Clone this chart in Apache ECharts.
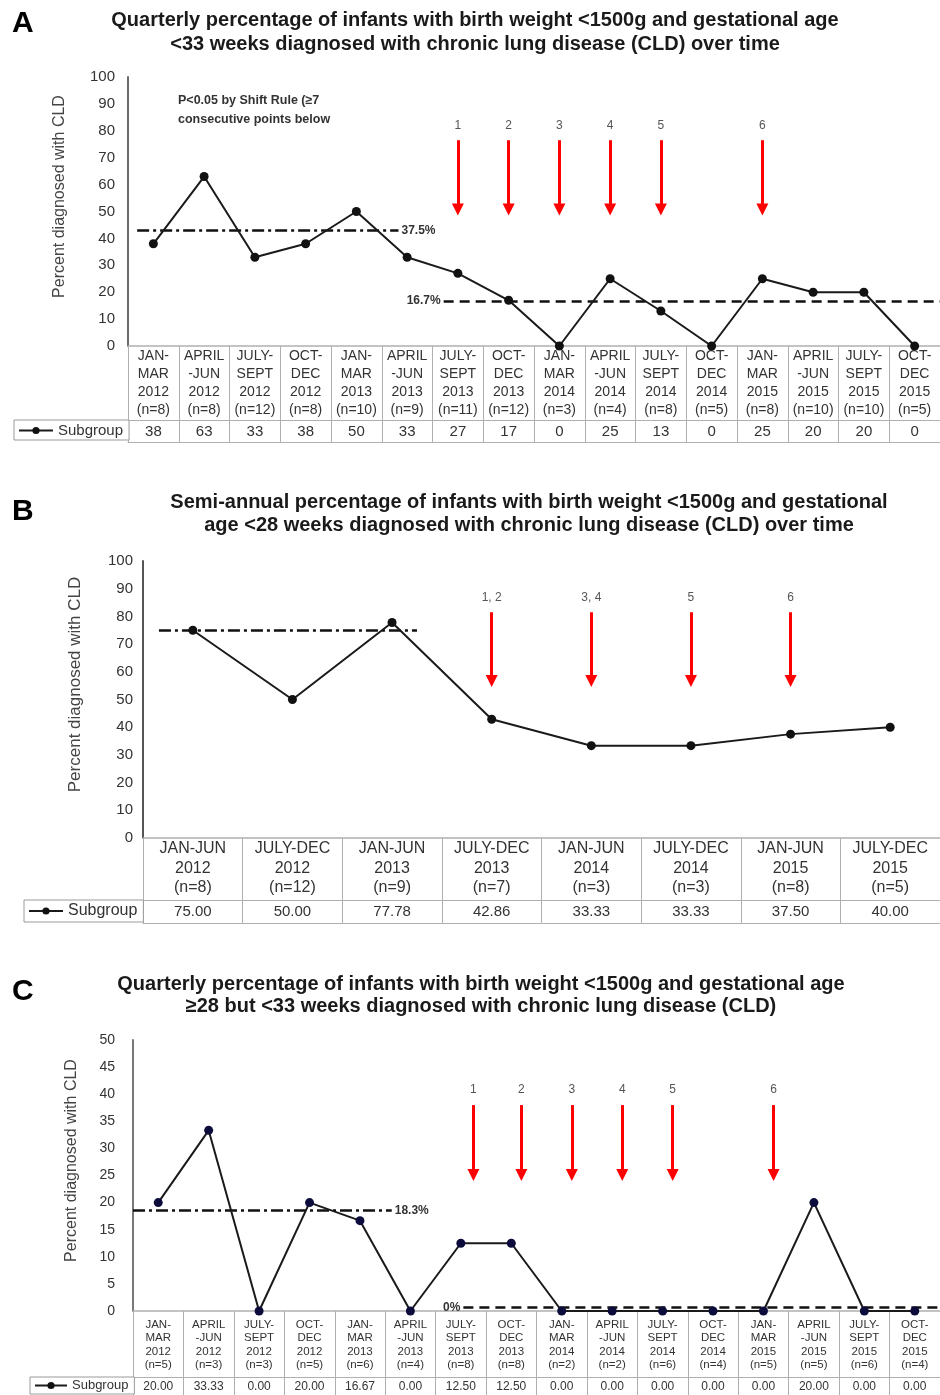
<!DOCTYPE html>
<html><head><meta charset="utf-8">
<script src="https://cdn.jsdelivr.net/npm/echarts@6/dist/echarts.min.js"></script>
<style>html,body{margin:0;padding:0;background:#fff}#c{width:940px;height:1395px}</style>
</head><body><div id="c"></div>
<script>
// ---------- DATA ----------
const quarterPeriods = ['JAN-\nMAR\n2012','APRIL\n-JUN\n2012','JULY-\nSEPT\n2012','OCT-\nDEC\n2012','JAN-\nMAR\n2013','APRIL\n-JUN\n2013','JULY-\nSEPT\n2013','OCT-\nDEC\n2013','JAN-\nMAR\n2014','APRIL\n-JUN\n2014','JULY-\nSEPT\n2014','OCT-\nDEC\n2014','JAN-\nMAR\n2015','APRIL\n-JUN\n2015','JULY-\nSEPT\n2015','OCT-\nDEC\n2015'];
const halfYearPeriods = ['JAN-JUN\n2012','JULY-DEC\n2012','JAN-JUN\n2013','JULY-DEC\n2013','JAN-JUN\n2014','JULY-DEC\n2014','JAN-JUN\n2015','JULY-DEC\n2015'];

const nA = [8,8,12,8,10,9,11,12,3,4,8,5,8,10,10,5];
const pctA = [38,63,33,38,50,33,27,17,0,25,13,0,25,20,20,0];

const nB = [8,12,9,7,3,3,8,5];
const pctB = [75.00,50.00,77.78,42.86,33.33,33.33,37.50,40.00];

const nC = [5,3,3,5,6,4,8,8,2,2,6,4,5,5,6,4];
const pctC = [20.00,33.33,0.00,20.00,16.67,0.00,12.50,12.50,0.00,0.00,0.00,0.00,0.00,20.00,0.00,0.00];

// reference lines (value, category-position start/end, label)
const centerLineA = {value:43, from:-0.32, to:4.83, label:'37.5%'};
const shiftLineA  = {value:16.7, from:5.72, to:15.5, label:'16.7%'};
const centerLineB = {value:75, from:-0.34, to:2.25, label:''};
const centerLineC = {value:18.5, from:-0.5, to:4.63, label:'18.3%'};
const shiftLineC  = {value:0.6, from:6.05, to:15.5, label:'0%'};

// intervention arrows (category position, label, top value, tip value)
const arrowPosA = [6,7,8,9,10,12];
const arrowLabelsA = ['1','2','3','4','5','6'];
const arrowSpanA = [76.5, 48.5];
const arrowPosB = [3,4,5,6];
const arrowLabelsB = ['1, 2','3, 4','5','6'];
const arrowSpanB = [81.5, 54.5];
const arrowPosC = [6.25,7.2,8.2,9.2,10.2,12.2];
const arrowLabelsC = ['1','2','3','4','5','6'];
const arrowSpanC = [38, 24];

const titleA = 'Quarterly percentage of infants with birth weight <1500g and gestational age\n<33 weeks diagnosed with chronic lung disease (CLD) over time';
const titleB = 'Semi-annual percentage of infants with birth weight <1500g and gestational\nage <28 weeks diagnosed with chronic lung disease (CLD) over time';
const titleC = 'Quarterly percentage of infants with birth weight <1500g and gestational age\n\u226528 but <33 weeks diagnosed with chronic lung disease (CLD)';
const noteA = 'P<0.05 by Shift Rule (\u22657\nconsecutive points below';
const yTitle = 'Percent diagnosed with CLD';
const seriesName = 'Subgroup';

// ---------- LAYOUT / STYLE ----------
const FONT = '"Liberation Sans", Arial, Helvetica, sans-serif';
const GRAY = '#b0b0b0';

const panels = [
  { cats:quarterPeriods, n:nA, pct:pctA, fmt:v=>v.toFixed(0),
    grid:{left:128, top:77, width:816, height:269}, yMax:100, yStep:10,
    rowH:74, valH:22, catFont:14, catLH:18, catMargin:1, valFont:15, valMargin:4,
    yFont:15, yMargin:13, yNameFont:16, yNameGap:60, yAxisColor:'#6a6a6a',
    legend:{left:14, top:420, fontSize:15, itemWidth:34, padding:[3,6,2,4]},
    dot:'#111', lines:[[centerLineA,'dashdot','end'],[shiftLineA,'dash','start']],
    arrows:{pos:arrowPosA, labels:arrowLabelsA, span:arrowSpanA} },
  { cats:halfYearPeriods, n:nB, pct:pctB, fmt:v=>v.toFixed(2),
    grid:{left:143, top:561, width:814, height:277}, yMax:100, yStep:10,
    rowH:62, valH:23, catFont:16, catLH:19.5, catMargin:1, valFont:15, valMargin:4,
    yFont:15, yMargin:10, yNameFont:17, yNameGap:59, yAxisColor:'#555',
    legend:{left:24, top:900, fontSize:16, itemWidth:34, padding:[3,6,3,4]},
    dot:'#111', lines:[[centerLineB,'dashdot','end']],
    arrows:{pos:arrowPosB, labels:arrowLabelsB, span:arrowSpanB} },
  { cats:quarterPeriods, n:nC, pct:pctC, fmt:v=>v.toFixed(2),
    grid:{left:133, top:1040, width:811, height:271}, yMax:50, yStep:5,
    rowH:66, valH:20, catFont:11.5, catLH:13.5, catMargin:7, valFont:12, valMargin:4,
    yFont:14, yMargin:18, yNameFont:16, yNameGap:53, yAxisColor:'#777',
    legend:{left:30, top:1377, fontSize:13, itemWidth:32, padding:[2,6,2,4]},
    dot:'#0c0c3c', lines:[[centerLineC,'dashdot','end'],[shiftLineC,'dash','start']],
    arrows:{pos:arrowPosC, labels:arrowLabelsC, span:arrowSpanC} }
];

const DASH = {dashdot:[12,4,3,4], dash:[10,6]};

const opt = {animation:false, backgroundColor:'#fff', textStyle:{fontFamily:FONT},
  grid:[], xAxis:[], yAxis:[], series:[], legend:[], graphic:[]};

panels.forEach((p, g) => {
  const cats = p.cats.map((c, k) => c + '\n(n=' + p.n[k] + ')');
  opt.grid.push(Object.assign({}, p.grid));
  opt.yAxis.push({type:'value', gridIndex:g, min:0, max:p.yMax, interval:p.yStep,
    axisLine:{show:true, onZero:false, lineStyle:{color:p.yAxisColor, width:2}},
    axisTick:{show:false}, splitLine:{show:false},
    axisLabel:{fontSize:p.yFont, color:'#333', margin:p.yMargin, fontFamily:FONT},
    name:yTitle, nameLocation:'middle', nameGap:p.yNameGap,
    nameTextStyle:{fontSize:p.yNameFont, color:'#444', fontFamily:FONT, padding:[0,0,0,30]}});
  const base = opt.xAxis.length;
  opt.xAxis.push({type:'category', gridIndex:g, position:'bottom', data:cats, boundaryGap:true,
    axisLine:{onZero:false, lineStyle:{color:GRAY, width:1.5}},
    axisTick:{show:true, interval:0, length:p.rowH, lineStyle:{color:GRAY}},
    axisLabel:{interval:0, fontSize:p.catFont, lineHeight:p.catLH, margin:p.catMargin, color:'#333', fontFamily:FONT}});
  opt.xAxis.push({type:'category', gridIndex:g, position:'bottom', offset:p.rowH, data:cats, boundaryGap:true,
    axisLine:{onZero:false, lineStyle:{color:GRAY}},
    axisTick:{show:true, interval:0, length:p.valH, lineStyle:{color:GRAY}},
    axisLabel:{interval:0, fontSize:p.valFont, margin:p.valMargin, color:'#333', fontFamily:FONT,
      formatter:(v, k) => p.fmt(p.pct[k])}});
  opt.xAxis.push({type:'category', gridIndex:g, position:'bottom', offset:p.rowH + p.valH, data:cats,
    axisLine:{onZero:false, lineStyle:{color:GRAY}}, axisTick:{show:false}, axisLabel:{show:false}});
  opt.xAxis.push({type:'value', gridIndex:g, position:'top', min:-0.5, max:cats.length - 0.5, show:false,
    axisLine:{onZero:false}});

  opt.series.push({type:'line', name:seriesName, xAxisIndex:base, yAxisIndex:g, data:p.pct,
    symbol:'circle', symbolSize:9, itemStyle:{color:p.dot}, lineStyle:{color:'#1a1a1a', width:2}, z:5});

  const unitPerPx = p.yMax / p.grid.height;
  const mlData = [];
  p.lines.forEach(([l, kind, at]) => {
    mlData.push([
      {coord:[l.from, l.value], lineStyle:{color:'#111', width:2.5, type:DASH[kind]},
       label:{show:!!l.label, position:at, formatter:l.label, fontSize:12, fontWeight:'bold', color:'#333', distance:3, fontFamily:FONT}},
      {coord:[l.to, l.value]}
    ]);
  });
  p.arrows.pos.forEach((x, k) => {
    mlData.push([
      {coord:[x, p.arrows.span[0]], symbol:'none', lineStyle:{color:'#ff0000', width:3, type:'solid'},
       label:{show:true, position:'start', formatter:p.arrows.labels[k], fontSize:12, color:'#555', distance:9, fontFamily:FONT}},
      {coord:[x, p.arrows.span[1] + 6 * unitPerPx], symbol:'triangle', symbolSize:[12,12]}
    ]);
  });
  opt.series.push({type:'line', xAxisIndex:base + 3, yAxisIndex:g, data:[], silent:true,
    markLine:{silent:true, symbol:['none','none'], animation:false, data:mlData}});

  opt.legend.push({data:[seriesName], left:p.legend.left, top:p.legend.top, orient:'horizontal',
    itemWidth:p.legend.itemWidth, itemHeight:9, padding:p.legend.padding,
    borderColor:'#9a9a9a', borderWidth:1, selectedMode:false, backgroundColor:'#fff',
    textStyle:{fontSize:p.legend.fontSize, color:'#333', fontFamily:FONT}});
});

function txt(x, y, text, size, lh, align, vAlign, weight, color) {
  return {type:'text', x:x, y:y, silent:true, style:{text:text, fontSize:size, fontWeight:weight, fontFamily:FONT,
    fill:color, align:align, textAlign:align, verticalAlign:vAlign, textVerticalAlign:vAlign, lineHeight:lh}};
}
opt.graphic = [
  txt(12, 24, 'A', 30, 30, 'left', 'middle', 'bold', '#000'),
  txt(12, 512, 'B', 30, 30, 'left', 'middle', 'bold', '#000'),
  txt(12, 992, 'C', 30, 30, 'left', 'middle', 'bold', '#000'),
  txt(475, 8, titleA, 20, 24, 'center', 'top', 'bold', '#1a1a1a'),
  txt(529, 490.5, titleB, 20, 23, 'center', 'top', 'bold', '#1a1a1a'),
  txt(481, 973, titleC, 20, 22, 'center', 'top', 'bold', '#1a1a1a'),
  txt(178, 91.5, noteA, 12.5, 19, 'left', 'top', 'bold', '#333')
];

const chart = echarts.init(document.getElementById('c'), null, {renderer:'canvas'});
chart.setOption(opt);
</script></body></html>
